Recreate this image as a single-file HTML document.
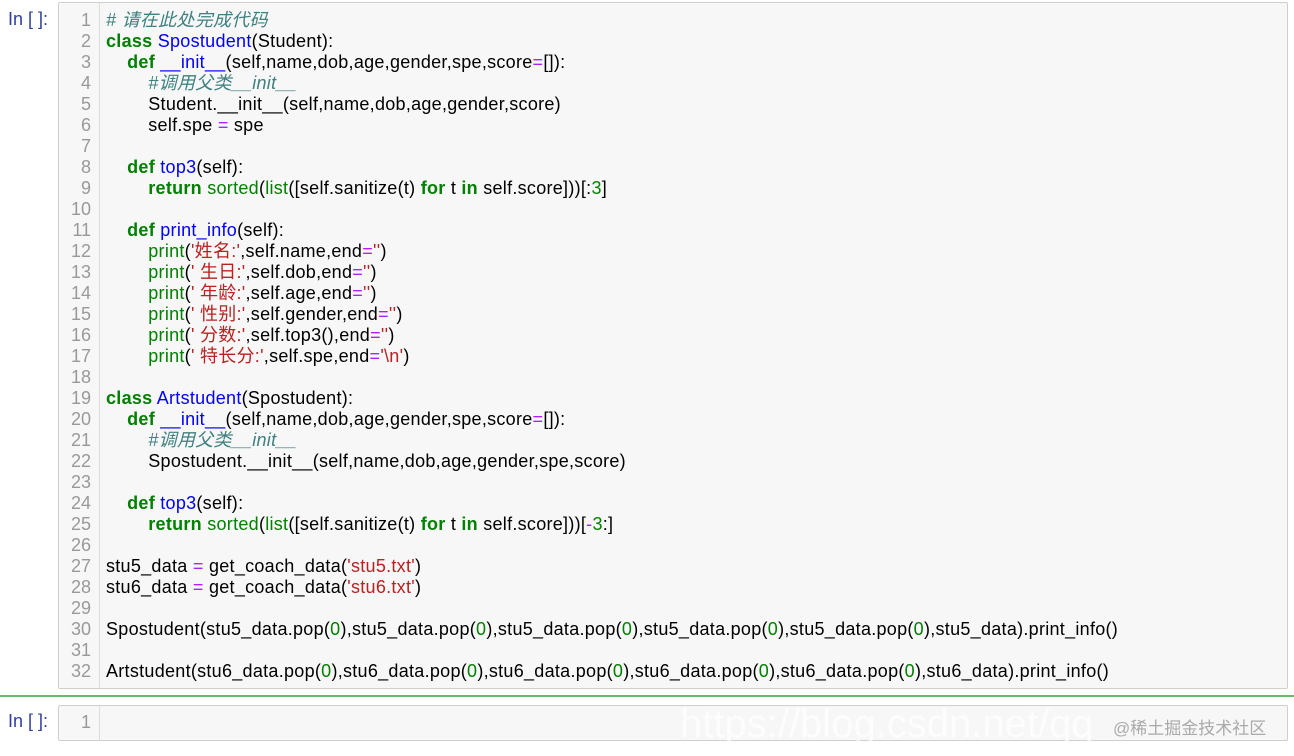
<!DOCTYPE html>
<html><head><meta charset="utf-8"><style>
body{margin:0;width:1294px;height:756px;background:#fff;position:relative;overflow:hidden;font-family:"Liberation Sans","Microsoft YaHei","Noto Sans CJK SC",sans-serif;}
.p{position:absolute;left:8px;color:#303f9f;font-size:18px;}
.cell{position:absolute;left:58px;width:1228px;background:#f7f7f7;border:1px solid #cfcfcf;border-radius:2px;}
.g{position:absolute;left:0;top:0;bottom:0;width:40px;border-right:1px solid #ddd;background:#f7f7f7;}
.ln{position:absolute;left:0;width:32px;text-align:right;color:#999;font-size:18px;line-height:21px;white-space:pre;}
.code{position:absolute;left:47px;font-size:18px;line-height:21px;white-space:pre;color:#000;letter-spacing:0.28px;}
.k{color:#008000;font-weight:bold}.d{color:#0000ff}.c{color:#408080;font-style:italic}.s{color:#ba2121}.o{color:#aa22ff}.b{color:#008000}.n{color:#008000}
</style></head><body>
<div class="p" style="top:9px">In [ ]:</div>
<div class="cell" style="top:2px;height:685px">
<div class="g"></div>
<div class="ln" style="top:7px">1
2
3
4
5
6
7
8
9
10
11
12
13
14
15
16
17
18
19
20
21
22
23
24
25
26
27
28
29
30
31
32</div>
<div class="code" style="top:7px"><span class="c"># 请在此处完成代码</span>
<span class="k">class</span> <span class="d">Spostudent</span>(Student):
    <span class="k">def</span> <span class="d">__init__</span>(self,name,dob,age,gender,spe,score<span class="o">=</span>[]):
        <span class="c">#调用父类__init__</span>
        Student.__init__(self,name,dob,age,gender,score)
        self.spe <span class="o">=</span> spe

    <span class="k">def</span> <span class="d">top3</span>(self):
        <span class="k">return</span> <span class="b">sorted</span>(<span class="b">list</span>([self.sanitize(t) <span class="k">for</span> t <span class="k">in</span> self.score]))[:<span class="n">3</span>]

    <span class="k">def</span> <span class="d">print_info</span>(self):
        <span class="b">print</span>(<span class="s">'姓名:'</span>,self.name,end<span class="o">=</span><span class="s">''</span>)
        <span class="b">print</span>(<span class="s">' 生日:'</span>,self.dob,end<span class="o">=</span><span class="s">''</span>)
        <span class="b">print</span>(<span class="s">' 年龄:'</span>,self.age,end<span class="o">=</span><span class="s">''</span>)
        <span class="b">print</span>(<span class="s">' 性别:'</span>,self.gender,end<span class="o">=</span><span class="s">''</span>)
        <span class="b">print</span>(<span class="s">' 分数:'</span>,self.top3(),end<span class="o">=</span><span class="s">''</span>)
        <span class="b">print</span>(<span class="s">' 特长分:'</span>,self.spe,end<span class="o">=</span><span class="s">'\n'</span>)

<span class="k">class</span> <span class="d">Artstudent</span>(Spostudent):
    <span class="k">def</span> <span class="d">__init__</span>(self,name,dob,age,gender,spe,score<span class="o">=</span>[]):
        <span class="c">#调用父类__init__</span>
        Spostudent.__init__(self,name,dob,age,gender,spe,score)

    <span class="k">def</span> <span class="d">top3</span>(self):
        <span class="k">return</span> <span class="b">sorted</span>(<span class="b">list</span>([self.sanitize(t) <span class="k">for</span> t <span class="k">in</span> self.score]))[<span class="o">-</span><span class="n">3</span>:]

stu5_data <span class="o">=</span> get_coach_data(<span class="s">'stu5.txt'</span>)
stu6_data <span class="o">=</span> get_coach_data(<span class="s">'stu6.txt'</span>)

Spostudent(stu5_data.pop(<span class="n">0</span>),stu5_data.pop(<span class="n">0</span>),stu5_data.pop(<span class="n">0</span>),stu5_data.pop(<span class="n">0</span>),stu5_data.pop(<span class="n">0</span>),stu5_data).print_info()

Artstudent(stu6_data.pop(<span class="n">0</span>),stu6_data.pop(<span class="n">0</span>),stu6_data.pop(<span class="n">0</span>),stu6_data.pop(<span class="n">0</span>),stu6_data.pop(<span class="n">0</span>),stu6_data).print_info()</div>
</div>
<div style="position:absolute;left:0;top:695px;width:1294px;height:2px;background:#66bb6a"></div>
<div class="p" style="top:711px">In [ ]:</div>
<div class="cell" style="top:705px;height:34px">
<div class="g"></div>
<div class="ln" style="top:6px">1</div>
</div>
<div style="position:absolute;left:680px;top:702px;font-size:40px;color:rgba(255,255,255,0.7);white-space:pre">https://blog.csdn.net/qq</div>
<div style="position:absolute;left:1113px;top:714px;font-size:17px;color:#aaa;">@稀土掘金技术社区</div>
</body></html>
